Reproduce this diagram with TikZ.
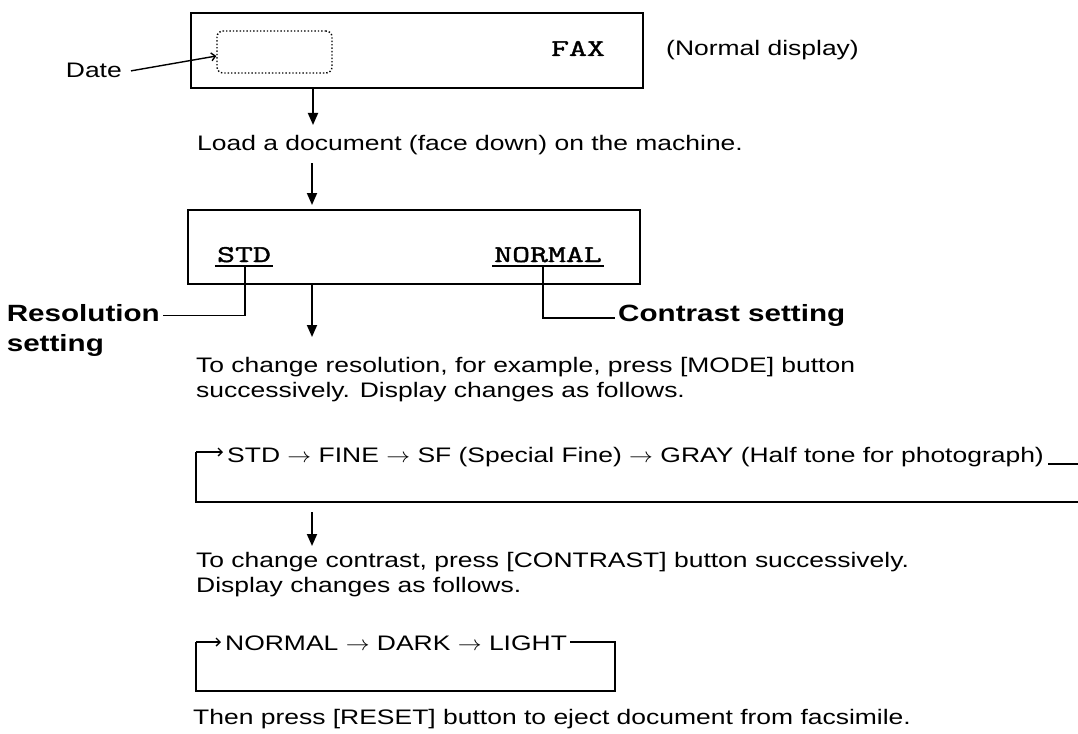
\documentclass[tikz,border=0pt]{standalone}
\usepackage{fontspec}
\usepackage{graphicx}
\setmainfont{Liberation Sans}
\newfontfamily\bodyfont[FakeStretch=1.26]{Liberation Sans}
\newfontfamily\monofont[FakeStretch=1.45,FakeBold=1.6]{Latin Modern Mono}
\newcommand\rarr{\scalebox{1.15}[1]{$\rightarrow$}}
\usetikzlibrary{arrows.meta}
\begin{document}
\begin{tikzpicture}[x=1pt,y=-1pt,
  txt/.style={font=\bodyfont\fontsize{21}{25}\selectfont, inner sep=0pt},
  boldtxt/.style={font=\bodyfont\bfseries\fontsize{23.5}{28}\selectfont, inner sep=0pt},
  mono/.style={font=\monofont\fontsize{24}{28}\selectfont, inner sep=0pt},
  box/.style={draw, line width=1.8pt, inner sep=0pt},
  arr/.style={line width=1.8pt, -{Triangle[length=12pt,width=10pt]}},
  barb/.style={line width=1.4pt, -{Straight Barb[length=4pt,width=8pt]}},
  lin/.style={line width=1.4pt}]
\useasboundingbox (0,0) rectangle (1078,733);
\fill[white] (0,0) rectangle (1078,733);

% top display box
\node[box, minimum width=452pt, minimum height=75pt] (box1) at (417,50.5) {};
\node[draw, dotted, line width=1.4pt, rounded corners=6pt, minimum width=115pt, minimum height=42pt] (datebox) at (274.5,52) {};
\node[mono, anchor=base] (fax) at (578,56) {FAX};
\node[txt, anchor=base west] (nd) at (666,56) {(Normal display)};
\node[txt, anchor=base east] (date) at (122,78) {Date};
\draw[barb] ([xshift=9pt]date.east) -- ([yshift=-4pt]datebox.west);

% first arrow and loading text
\coordinate (t1) at (313,125);
\draw[arr] (box1.south -| t1) -- (t1);
\node[txt, anchor=base west] (load) at (197,150) {Load a document (face down) on the machine.};
\coordinate (s2) at (312,163);
\coordinate (t2) at (312,205);
\draw[arr] (s2) -- (t2);

% second display box
\node[box, minimum width=452pt, minimum height=74pt] (box2) at (414,247) {};
\node[mono, anchor=base] (std) at (244,262) {STD};
\node[mono, anchor=base] (norm) at (548,262) {NORMAL};
\draw[lin] ([xshift=-2pt,yshift=-4pt]std.base west) -- ([xshift=2pt,yshift=-4pt]std.base east);
\draw[lin] ([xshift=-2pt,yshift=-4pt]norm.base west) -- ([xshift=2pt,yshift=-4pt]norm.base east);
\coordinate (stdul) at (245,266);
\coordinate (normul) at (543,266);

\node[boldtxt, anchor=base east] (res) at (160,321) {Resolution};
\node[boldtxt, anchor=base west] (res2) at ([yshift=-30pt]res.base west) {setting};
\node[boldtxt, anchor=base west] (con) at (618,321) {Contrast setting};
\draw[lin] (stdul) |- ([xshift=3pt,yshift=-3pt]res.east);
\draw[lin] (normul) |- ([xshift=-3pt,yshift=-3pt]con.west);

\coordinate (t3) at (312,337);
\draw[arr] (box2.south -| t3) -- (t3);

% resolution text and loop
\node[txt, anchor=base west] (tr1) at (196,372) {To change resolution, for example, press [MODE] button};
\node[txt, anchor=base west] (tr2) at (196,397) {successively. Display changes as follows.};
\node[txt, anchor=base west] (loopa) at (227,462) {STD \rarr{} FINE \rarr{} SF (Special Fine) \rarr{} GRAY (Half tone for photograph)};
\coordinate (ar) at (1100,502);
\coordinate (al) at (196,502);
\coordinate (ah) at (196,452);
\coordinate (aht) at (223,452);
\draw[lin] ([xshift=4pt,yshift=-2pt]loopa.base east) -- ++(60,0);
\draw[lin] (ar) -- (al) -- (ah);
\draw[barb] (ah) -- (aht);

\coordinate (s4) at (312,512);
\coordinate (t4) at (312,546);
\draw[arr] (s4) -- (t4);

% contrast text and loop
\node[txt, anchor=base west] (tc1) at (196,567) {To change contrast, press [CONTRAST] button successively.};
\node[txt, anchor=base west] (tc2) at (196,592) {Display changes as follows.};
\node[txt, anchor=base west] (loopb) at (225,650) {NORMAL \rarr{} DARK \rarr{} LIGHT};
\coordinate (br) at (615,642);
\coordinate (bb) at (615,691);
\coordinate (bl) at (196,691);
\coordinate (bh) at (196,642);
\coordinate (bht) at (221,642);
\draw[lin] ([xshift=3pt]loopb.base east |- br) -- (br) -- (bb) -- (bl) -- (bh);
\draw[barb] (bh) -- (bht);

\node[txt, anchor=base west] (reset) at (193,724) {Then press [RESET] button to eject document from facsimile.};
\end{tikzpicture}
\end{document}
